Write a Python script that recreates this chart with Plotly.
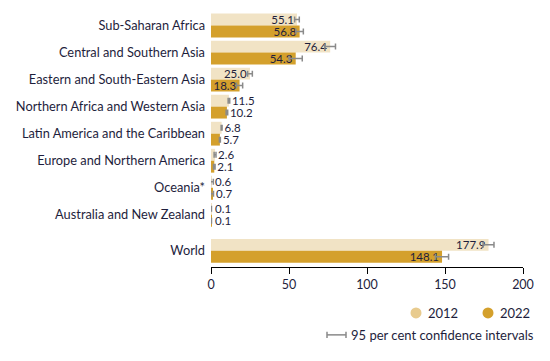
import plotly.graph_objects as go

regions = ["Sub-Saharan Africa", "Central and Southern Asia", "Eastern and South-Eastern Asia",
           "Northern Africa and Western Asia", "Latin America and the Caribbean",
           "Europe and Northern America", "Oceania*", "Australia and New Zealand", "World"]
positions = [0, 1, 2, 3, 4, 5, 6, 7, 8.33]
v2012 = [55.1, 76.4, 25.0, 11.5, 6.8, 2.6, 0.6, 0.1, 177.9]
v2022 = [56.8, 54.3, 18.3, 10.2, 5.7, 2.1, 0.7, 0.1, 148.1]
ci2012 = [1.5, 3.4, 1.5, 0.5, 0.3, 0.6, 0.9, 0.2, 3.5]
ci2022 = [2.4, 4.2, 2.0, 0.5, 0.3, 0.5, 0.9, 0.2, 4.2]
x_ticks = [0, 50, 100, 150, 200]
legend_labels = ["2012", "2022"]

C12_BAR = "#F1E3C5"
C12_LEG = "#E8CB8E"
C22 = "#D4A02C"
TXT = "#1E1E3C"
FONT = "Lato"

L, R, T, B = 211, 27, 11.5, 94
W, H = 550, 361
PW, PH = W - L - R, H - T - B

def px(x):
    return (x - L) / PW

def py(y):
    return (H - B - y) / PH

def textpos(vals):
    return ["inside" if v >= 18 else "outside" for v in vals]

fig = go.Figure()
for name, vals, ci, col in [("2012", v2012, ci2012, C12_BAR), ("2022", v2022, ci2022, C22)]:
    fig.add_trace(go.Bar(
        y=positions, x=vals, orientation="h", name=name, showlegend=False,
        marker=dict(color=col, line=dict(width=0)),
        error_x=dict(type="data", array=ci, color="#8A8A8A", thickness=1.5, width=3),
        text=[f"{v:.1f}" for v in vals], textposition=textpos(vals),
        insidetextanchor="end", constraintext="none",
        textfont=dict(family=FONT, size=11.5, color=TXT), cliponaxis=False,
    ))

fig.update_layout(
    width=W, height=H, barmode="group", bargap=0.12, bargroupgap=0,
    margin=dict(l=L, r=R, t=T, b=B, autoexpand=False),
    plot_bgcolor="white", paper_bgcolor="white", showlegend=False,
    font=dict(family=FONT, size=12, color=TXT),
    xaxis=dict(range=[0, 200], tickvals=x_ticks, showgrid=False, zeroline=False,
               showline=True, linecolor="black", linewidth=1, ticks="outside",
               ticklen=6, tickcolor="black", tickfont=dict(size=12.5, color=TXT),
               automargin=False),
    yaxis=dict(range=[8.93, -0.5], tickvals=positions, ticktext=regions,
               showgrid=False, zeroline=False, showline=False, ticks="",
               ticklabelstandoff=5, tickfont=dict(size=12.8, color=TXT), automargin=False),
)

# Legend key (2012 / 2022)
for (cx, tx), lab, col in zip([(416, 426), (488, 498)], legend_labels, [C12_LEG, C22]):
    r = 5.5
    fig.add_shape(type="circle", xref="paper", yref="paper",
                  x0=px(cx - r), x1=px(cx + r), y0=py(313 + r), y1=py(313 - r),
                  fillcolor=col, line=dict(width=0))
    fig.add_annotation(xref="paper", yref="paper", x=px(tx), y=py(313),
                       xanchor="left", yanchor="middle", showarrow=False,
                       text=lab, font=dict(size=13, color=TXT))

# Confidence interval key
y_ci = py(335)
x0, x1 = px(327), px(346)
fig.add_shape(type="line", xref="paper", yref="paper", x0=x0, x1=x1, y0=y_ci, y1=y_ci,
              line=dict(color="#8A8A8A", width=1.5))
for xx in (x0, x1):
    fig.add_shape(type="line", xref="paper", yref="paper", x0=xx, x1=xx,
                  y0=y_ci - 0.012, y1=y_ci + 0.012, line=dict(color="#8A8A8A", width=1.5))
fig.add_annotation(xref="paper", yref="paper", x=px(349), y=y_ci,
                   xanchor="left", yanchor="middle", showarrow=False,
                   text="95 per cent confidence intervals", font=dict(size=13, color=TXT))

fig.write_html("out.html", config={"displayModeBar": False},
               post_script="document.body.style.margin='0';document.body.style.overflow='hidden';")
